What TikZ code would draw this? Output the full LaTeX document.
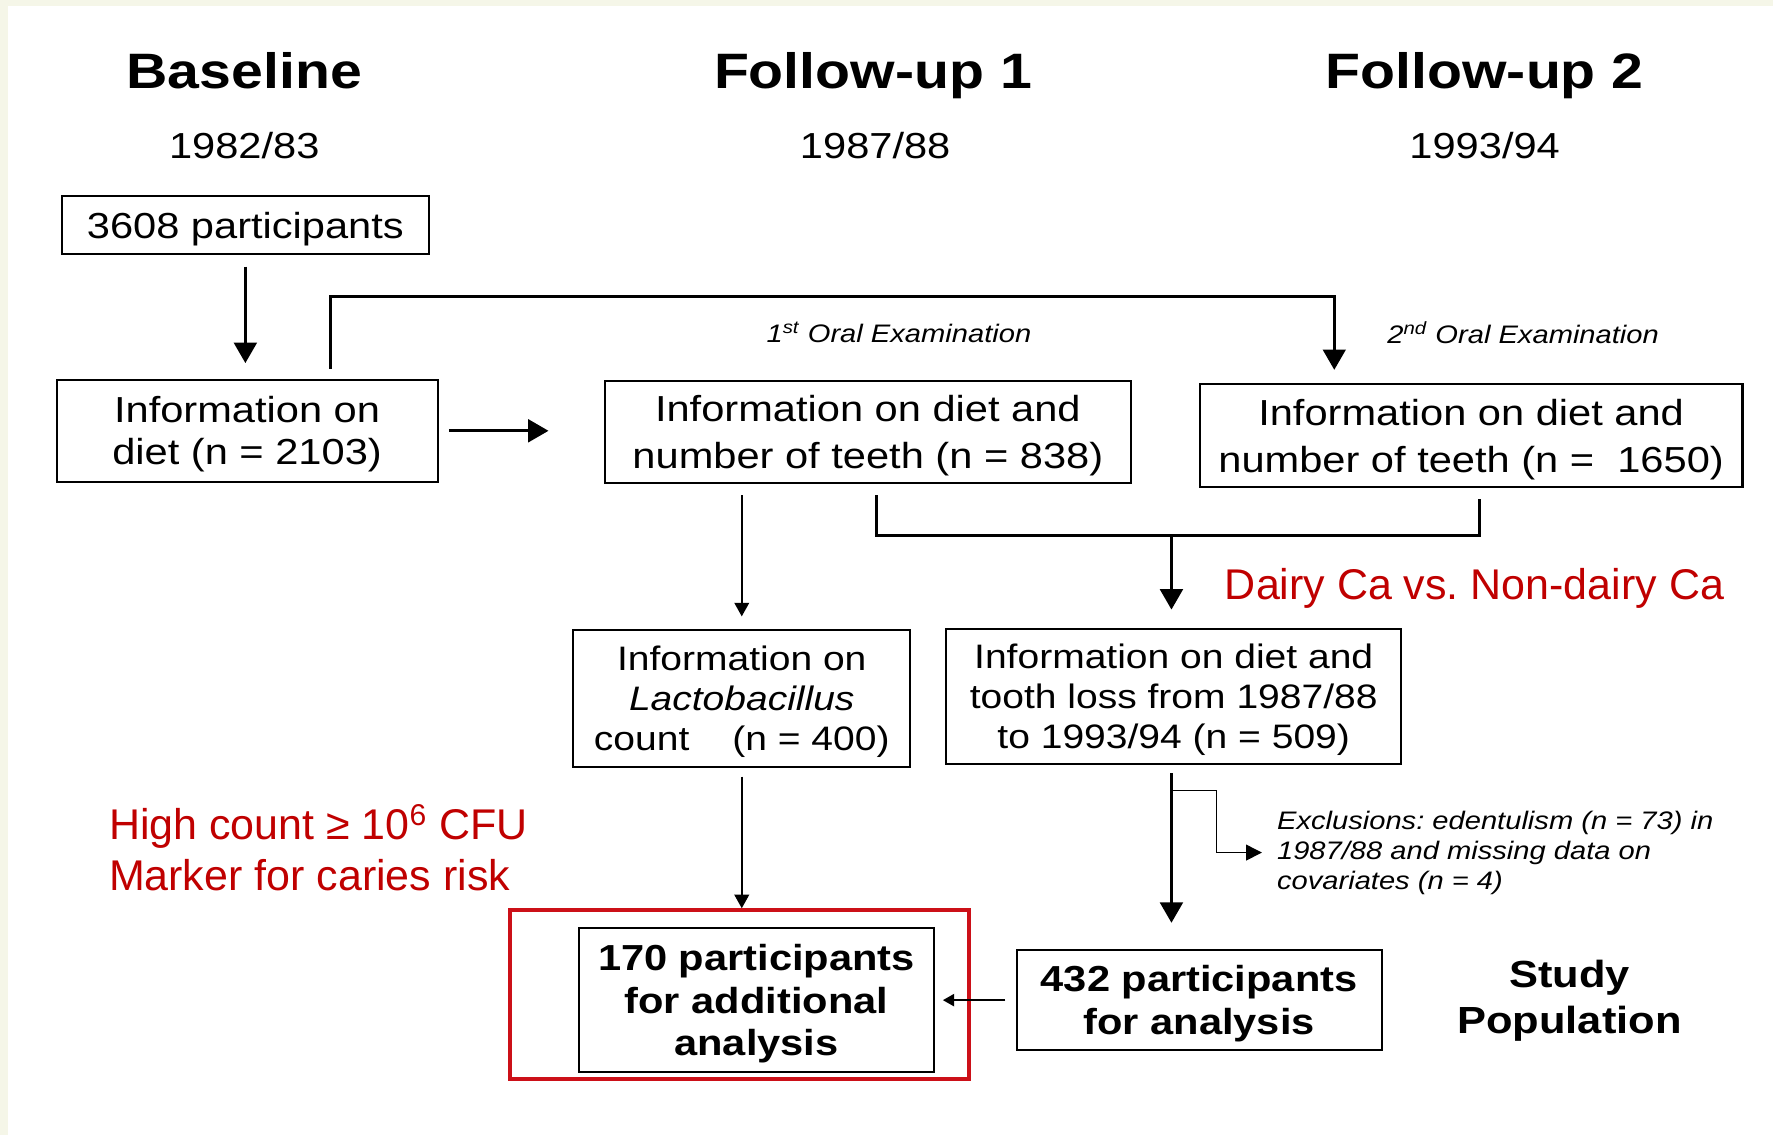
\documentclass[tikz,border=0pt]{standalone}
\usepackage{fontspec}
\setmainfont{Liberation Sans}
\newfontfamily\stretchsans[FakeStretch=1.15]{Liberation Sans}
\usetikzlibrary{arrows.meta, positioning}
\definecolor{cream}{RGB}{245,246,232}
\definecolor{darkred}{RGB}{192,0,0}
\definecolor{framered}{RGB}{204,16,24}
\frenchspacing
\tikzset{
  box/.style={draw, line width=0.9pt, align=center, inner sep=2pt, text depth=0pt},
  phase/.style={font=\stretchsans\fontsize{22}{26}\selectfont\bfseries, anchor=base},
  year/.style={font=\stretchsans\fontsize{16}{19}\selectfont, anchor=base},
  exam/.style={font=\stretchsans\fontsize{11.2}{13.25}\selectfont\itshape},
  bigarrow/.style={line width=1.35pt, -{Triangle[width=10pt,length=9pt]}},
  thinarrow/.style={line width=0.7pt, -{Triangle[width=6.5pt,length=6pt]}},
  smallarrow/.style={line width=0.6pt, -{Triangle[width=5.5pt,length=5pt]}},
  redtext/.style={text=darkred, font=\fontsize{19}{22.5}\selectfont}
}
\begin{document}
\begin{tikzpicture}[x=0.5pt, y=-0.5pt]
\useasboundingbox (0,0) rectangle (1568,1004);
\fill[white] (0,0) rectangle (1568,1004);
\fill[cream] (0,0) rectangle (7,1004);
\fill[cream] (0,0) rectangle (1568,5);

\node[phase] (base) at (216,78) {Baseline};
\node[phase] (fup1) at (772,78) {Follow-up 1};
\node[phase] (fup2) at (1313,78) {Follow-up 2};
\node[year] (y1) at (216,140) {1982/83};
\node[year] (y2) at (774,140) {1987/88};
\node[year] (y3) at (1313,140) {1993/94};

\node[box, font=\stretchsans\fontsize{16}{19}\selectfont, minimum width=162pt, minimum height=26pt] (start) at (217,199) {3608 participants};
\node[box, font=\stretchsans\fontsize{16}{18.5}\selectfont, minimum width=168.5pt, minimum height=45pt] (diet) at (218.5,381) {Information on\\diet (n = 2103)};
\node[box, font=\stretchsans\fontsize{16}{20.5}\selectfont, minimum width=232.5pt, minimum height=45pt] (fu1) at (767.5,382) {Information on diet and\\number of teeth (n = 838)};
\node[box, font=\stretchsans\fontsize{16}{20.5}\selectfont, minimum width=240pt, minimum height=45.5pt] (fu2) at (1301,385.5) {Information on diet and\\number of teeth (n = \ 1650)};
\node[exam] (exam1) at (795,294) {1\textsuperscript{st} Oral Examination};
\node[exam] (exam2) at (1347,294) {2\textsuperscript{nd} Oral Examination};
\node[box, font=\stretchsans\fontsize{15}{17.75}\selectfont, minimum width=149pt, minimum height=60.5pt] (lacto) at (656,617.5) {Information on\\\textit{Lactobacillus}\\count\hspace{19pt}(n = 400)};
\node[box, font=\stretchsans\fontsize{15}{17.75}\selectfont, minimum width=201pt, minimum height=60pt] (loss) at (1038,616) {Information on diet and\\tooth loss from 1987/88\\to 1993/94 (n = 509)};
\node[draw=framered, line width=1.75pt, minimum width=203pt, minimum height=74.5pt] (frame) at (654,879.5) {};
\node[box, font=\stretchsans\fontsize{16}{18.75}\selectfont\bfseries, minimum width=157pt, minimum height=63.5pt] (n170) at (669,884.5) {170 participants\\for additional\\analysis};
\node[box, font=\stretchsans\fontsize{16}{19}\selectfont\bfseries, minimum width=161.5pt, minimum height=44.5pt] (n432) at (1060.5,884.5) {432 participants\\for analysis};
\node[font=\stretchsans\fontsize{16.7}{20}\selectfont\bfseries, align=center] (study) at (1388,885) {Study\\Population};
\node[exam, align=left, anchor=west, inner sep=0pt] (excl) at (1129,754) {Exclusions: edentulism (n = 73) in\\1987/88 and missing data on\\covariates (n = 4)};
\node[redtext] (dairy) at (1304,520) {Dairy Ca vs. Non-dairy Ca};
\node[redtext, align=left, anchor=west, inner sep=0pt] (marker) at (96,750) {High count ≥ 10\textsuperscript{6} CFU\\Marker for caries risk};

\coordinate (rail) at (0,262);
\coordinate (join) at (1036,474);
\coordinate (fork) at (1036,699);

\draw[bigarrow, shorten <=5pt, shorten >=7pt] (start.south) -- (start.south |- diet.north);
\draw[bigarrow, shorten <=4.5pt, shorten >=24.5pt] (diet.east) -- (diet.east -| fu1.west);
\draw[bigarrow, shorten <=4.5pt, shorten >=6pt] ([xshift=37pt]diet.north) -- ([xshift=37pt]diet.north |- rail) -| ([xshift=-60.5pt]fu2.north);
\draw[thinarrow, shorten <=5pt, shorten >=5.5pt] (fu1.south -| lacto.north) -- (lacto.north);
\draw[line width=1.35pt, shorten <=5pt, shorten >=4.5pt] ([xshift=3.75pt]fu1.south) |- (join) -| ([xshift=3.5pt]fu2.south);
\draw[bigarrow, shorten >=8pt] (join) -- (join |- loss.north);
\draw[thinarrow, shorten <=4pt] (lacto.south) -- (lacto.south |- frame.north);
\draw[bigarrow, shorten <=3.5pt, shorten >=11.5pt] ([xshift=-1pt]loss.south) -- ([xshift=-1pt]loss.south |- n432.north);
\draw[line width=0.6pt, -{Triangle[width=7pt,length=7pt]}, shorten >=6.5pt] (fork) -| ([xshift=-26.5pt]excl.west) -- (excl.west);
\draw[smallarrow, shorten <=4.5pt, shorten >=3.5pt] (n432.west) -- (n432.west -| n170.east);
\end{tikzpicture}
\end{document}
